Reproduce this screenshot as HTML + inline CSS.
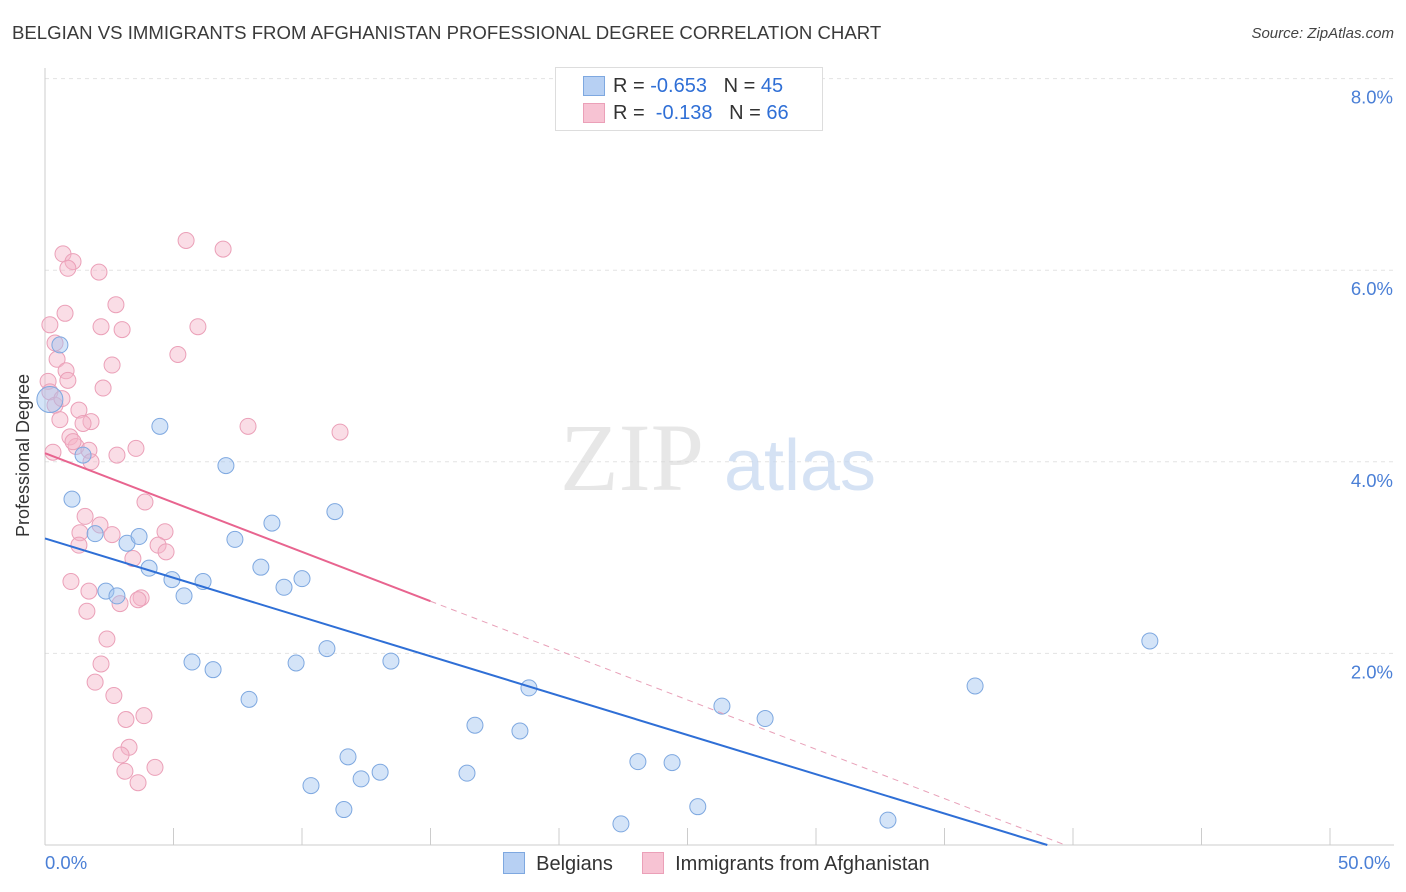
<!DOCTYPE html>
<html><head><meta charset="utf-8">
<style>
body{margin:0;background:#fff;font-family:"Liberation Sans",sans-serif;}
#wrap{position:relative;width:1406px;height:892px;overflow:hidden;}
.t{position:absolute;white-space:nowrap;}
</style></head>
<body>
<div id="wrap">
<div class="t" style="left:12px;top:22px;font-size:18.6px;color:#3a3a3a;">BELGIAN VS IMMIGRANTS FROM AFGHANISTAN PROFESSIONAL DEGREE CORRELATION CHART</div>
<div class="t" style="right:12px;top:25px;font-size:15px;color:#444;font-style:italic;">Source: ZipAtlas.com</div>
<svg id="svg" width="1406" height="892" style="position:absolute;left:0;top:0"></svg>
</div>
<script>
const belgX=[0.19,0.58,4.47,1.48,7.04,1.05,1.95,3.19,3.66,7.39,8.83,11.28,4.05,4.94,6.15,5.41,8.40,9.30,10.00,2.37,2.80,5.72,6.54,9.77,10.97,13.46,7.94,18.83,16.73,18.48,26.34,28.02,36.19,42.99,11.79,13.04,12.30,16.42,10.35,23.07,24.40,11.63,25.40,22.41,32.80];
const belgY=[4.65,5.22,4.37,4.07,3.96,3.61,3.25,3.15,3.22,3.19,3.36,3.48,2.89,2.77,2.75,2.60,2.90,2.69,2.78,2.65,2.60,1.91,1.83,1.90,2.05,1.92,1.52,1.64,1.25,1.19,1.45,1.32,1.66,2.13,0.92,0.76,0.69,0.75,0.62,0.87,0.86,0.37,0.40,0.22,0.26];
const afgX=[0.70,1.09,0.89,2.10,5.49,6.93,2.76,0.78,0.19,2.18,3.00,5.95,0.39,5.17,0.47,2.61,0.82,0.89,2.26,0.12,0.19,0.39,1.32,0.58,1.79,1.48,7.90,11.48,0.97,0.31,1.21,1.71,1.79,2.80,3.54,3.89,1.56,1.36,2.61,4.67,1.32,4.40,4.71,3.42,1.01,1.71,3.74,3.62,2.92,1.63,2.41,2.18,1.95,2.68,3.15,3.85,3.27,2.96,3.11,4.28,3.62,0.66,1.09,2.14];
const afgY=[6.17,6.09,6.02,5.98,6.31,6.22,5.64,5.55,5.43,5.41,5.38,5.41,5.24,5.12,5.07,5.01,4.95,4.85,4.77,4.84,4.73,4.59,4.54,4.44,4.42,4.40,4.37,4.31,4.26,4.10,4.16,4.12,4.00,4.07,4.14,3.58,3.43,3.26,3.24,3.27,3.13,3.13,3.06,2.99,2.75,2.65,2.58,2.56,2.52,2.44,2.15,1.89,1.70,1.56,1.31,1.35,1.02,0.94,0.77,0.81,0.65,4.66,4.21,3.34];
const belgTrend=[3.20,39.0];   // y-intercept, x-intercept
const afgTrend=[4.09,39.7,15.0]; // y-intercept, x-intercept, solid end
const yTicks=[2,4,6,8];
const yTickLabels=["2.0%","4.0%","6.0%","8.0%"];
const xTicks=[0,5,10,15,20,25,30,35,40,45,50];

const X=v=>45+v*25.7, Y=v=>845-v*95.8;
const svg=document.getElementById('svg'), NS='http://www.w3.org/2000/svg';
function mk(tag,attrs,name){const e=document.createElementNS(NS,tag);for(const k in attrs)e.setAttribute(k,attrs[k]);


svg.appendChild(e);return e;}
yTicks.forEach((t,i)=>{mk('line',{x1:45,x2:1394,y1:Y(t),y2:Y(t),stroke:'#e3e3e3','stroke-dasharray':'4,4'},'grid-line');
const tx=mk('text',{x:1393,y:Y(t)+25,'text-anchor':'end','font-size':18.5,fill:'#4a7fd6'},'y-tick-label');tx.textContent=yTickLabels[i];});
mk('line',{x1:45,x2:45,y1:68,y2:845,stroke:'#ccc'},'y-axis');
mk('line',{x1:45,x2:1394,y1:845,y2:845,stroke:'#ccc'},'x-axis');
xTicks.forEach(t=>mk('line',{x1:X(t),x2:X(t),y1:828,y2:845,stroke:'#ccc'},'x-tick'));
let w=mk('text',{x:632,y:490,'text-anchor':'middle','font-size':96,fill:'#d8d8d8','font-family':'Liberation Serif',opacity:0.6},'watermark-zip');w.textContent='ZIP';
w=mk('text',{x:800,y:490,'text-anchor':'middle','font-size':72,fill:'#c4d7f0',opacity:0.7},'watermark-atlas');w.textContent='atlas';
afgX.forEach((v,i)=>mk('circle',{cx:X(v),cy:Y(afgY[i]),r:8,fill:'rgba(245,180,200,0.45)',stroke:'#eba0b8','stroke-width':1},'afghanistan-point'));
belgX.forEach((v,i)=>mk('circle',{cx:X(v),cy:Y(belgY[i]),r:i==0?13:8,fill:'rgba(160,195,240,0.45)',stroke:'#7ea8e0','stroke-width':1},'belgian-point'));
mk('line',{x1:X(0),y1:Y(belgTrend[0]),x2:X(belgTrend[1]),y2:Y(0),stroke:'#2f6fd6','stroke-width':2},'belgian-trend-line');
const ps=afgTrend[0]*(1-afgTrend[2]/afgTrend[1]);
mk('line',{x1:X(0),y1:Y(afgTrend[0]),x2:X(afgTrend[2]),y2:Y(ps),stroke:'#e8648f','stroke-width':2},'afghanistan-trend-line');
mk('line',{x1:X(afgTrend[2]),y1:Y(ps),x2:X(afgTrend[1]),y2:Y(0),stroke:'#e8a0b8','stroke-width':1,'stroke-dasharray':'6,5'},'afghanistan-trend-extension');
</script>
<div class="t" style="left:-58px;top:445px;transform:rotate(-90deg);font-size:18px;color:#333;">Professional Degree</div>
<div class="t" style="left:45px;top:852px;font-size:18.5px;color:#4a7fd6;">0.0%</div>
<div class="t" style="left:1338px;top:852px;font-size:18.5px;color:#4a7fd6;">50.0%</div>
<div style="position:absolute;left:555px;top:67px;width:266px;height:62px;border:1px solid #ddd;background:#fff;font-size:20px;">
 <div style="position:absolute;left:27px;top:8px;width:20px;height:18px;background:#b7d0f3;border:1px solid #7ea8e0"></div>
 <div class="t" style="left:57px;top:7px;color:#333">R = <span style="color:#2f6fd6">-0.653</span>&nbsp;&nbsp;&nbsp;N = <span style="color:#2f6fd6">45</span></div>
 <div style="position:absolute;left:27px;top:35px;width:20px;height:18px;background:#f7c3d3;border:1px solid #eba0b8"></div>
 <div class="t" style="left:57px;top:34px;color:#333">R = &nbsp;<span style="color:#2f6fd6">-0.138</span>&nbsp;&nbsp;&nbsp;N = <span style="color:#2f6fd6">66</span></div>
</div>
<div style="position:absolute;left:503px;top:852px;font-size:20px;color:#333;">
 <span style="display:inline-block;width:20px;height:20px;background:#b7d0f3;border:1px solid #7ea8e0;vertical-align:-4px"></span>&nbsp; Belgians</div>
<div style="position:absolute;left:642px;top:852px;font-size:20px;color:#333;">
 <span style="display:inline-block;width:20px;height:20px;background:#f7c3d3;border:1px solid #eba0b8;vertical-align:-4px"></span>&nbsp; Immigrants from Afghanistan</div>
</body></html>
